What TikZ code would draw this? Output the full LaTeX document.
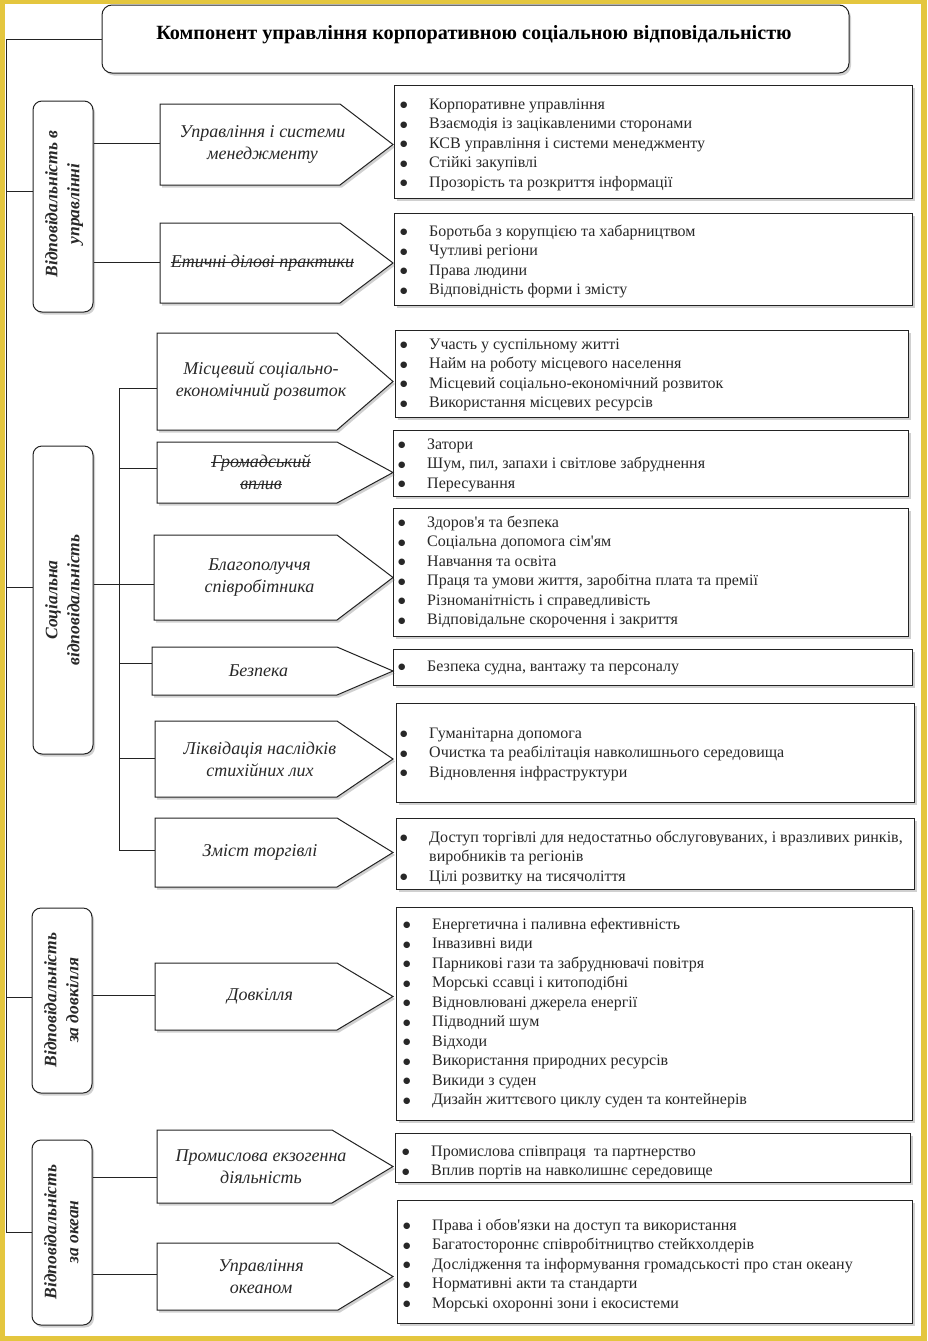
\documentclass[tikz,border=0pt]{standalone}
\usepackage{fontspec}
\setmainfont{Liberation Serif}[Ligatures=TeXOff]
\newfontfamily\dejavu{DejaVu Sans}
\usetikzlibrary{shadows,calc}

\definecolor{frameY}{RGB}{228,198,62}
\definecolor{ink}{RGB}{35,35,35}
\definecolor{txt}{RGB}{40,40,40}

\newsavebox{\strkbox}
\newcommand{\strk}[1]{\leavevmode\sbox{\strkbox}{#1}\rlap{\rule[0.27em]{\wd\strkbox}{0.7pt}}\usebox{\strkbox}}
\newcommand{\bul}{\raisebox{1.2pt}{\dejavu\fontsize{8.5}{10}\selectfont ●}}

\tikzset{
  shad/.style={drop shadow={shadow xshift=2pt, shadow yshift=-2.5pt, opacity=0.3, fill=black!60}},
  tbox/.style={draw=ink, line width=1pt, fill=white, rounded corners=10pt, shad, inner sep=0pt},
  gbox/.style={draw=ink, line width=1pt, fill=white, rounded corners=9pt, shad, inner sep=0pt},
  rboxst/.style={draw=ink, line width=1pt, fill=white, shad, inner sep=0pt},
  ashape/.style={draw=ink, line width=1pt, fill=white, shad},
  atext/.style={font=\itshape\fontsize{18}{22}\selectfont, align=center, text=txt, inner sep=0pt},
  gtext/.style={font=\bfseries\itshape\fontsize{17.5}{22}\selectfont, text=txt, inner sep=0pt, rotate=90},
  itemst/.style={font=\fontsize{16}{19.5}\selectfont, text=txt, inner sep=0pt},
  conn/.style={draw=ink, line width=0.9pt},
}

% right box: name, x1, y1, x2, y2
\newcommand{\rbx}[5]{\node[rboxst, anchor=north west, minimum width={(#4-#2)*1pt}, minimum height={(#5-#3)*1pt}] (#1) at (#2,#3) {};}
% items: name, x, baseline, rows
\newcommand{\itm}[4]{\node[itemst, anchor=base west] (#1) at (#2,#3) {\begin{tabular}[t]{@{}p{29pt}@{}l@{}}#4\end{tabular}};}
% arrow: name, left, top, bottom, diag start, connector y, text
\newcommand{\sarrow}[7]{%
  \path[ashape] (#2,#3) -- (#5,#3) -- (393,{(#3+#4)/2}) -- (#5,#4) -- (#2,#4) -- cycle;
  \coordinate (#1) at (#2,#6);
  \node[atext] (#1-t) at ({(#2+393)/2-14},{(#3+#4)/2}) {#7};}

\begin{document}
\begin{tikzpicture}[x=1pt,y=-1pt]
\useasboundingbox (0,0) rectangle (927,1341);
\fill[frameY] (0,0) rectangle (927,1341);
\fill[white] (5,4) rectangle (921,1336);

% title
\node[tbox, minimum width=747pt, minimum height=68pt] (title) at (475.5,39) {};
\node[font=\bfseries\fontsize{20.2}{24}\selectfont, text=black, inner sep=0pt] (tt) at (474,35) {Компонент управління корпоративною соціальною відповідальністю};

% groups
\node[gbox, minimum width=60pt, minimum height=211pt] (g1) at (63,206.5) {};
\node[gtext] (g1t) at (64,204) {\begin{tabular}{@{}c@{}}Відповідальність в\\управлінні\end{tabular}};
\node[gbox, minimum width=60pt, minimum height=308pt] (g2) at (63,600) {};
\node[gtext] (g2t) at (64,600) {\begin{tabular}{@{}c@{}}Соціальна\\відповідальність\end{tabular}};
\node[gbox, minimum width=60pt, minimum height=185pt] (g3) at (62,1000.5) {};
\node[gtext] (g3t) at (63,1000) {\begin{tabular}{@{}c@{}}Відповідальність\\за довкілля\end{tabular}};
\node[gbox, minimum width=60pt, minimum height=185pt] (g4) at (62,1232.5) {};
\node[gtext] (g4t) at (63,1232) {\begin{tabular}{@{}c@{}}Відповідальність\\за океан\end{tabular}};

% right boxes
\rbx{b1}{394}{85}{912}{198}
\rbx{b2}{394}{213}{912}{305}
\rbx{b3}{395}{330}{908}{417}
\rbx{b4}{393}{430}{908}{496}
\rbx{b5}{393}{508}{908}{636}
\rbx{b6}{393}{649}{912}{685}
\rbx{b7}{396}{703}{914}{802}
\rbx{b8}{396}{818}{914}{889}
\rbx{b9}{396}{907}{912}{1120}
\rbx{b10}{395}{1133}{910}{1182}
\rbx{b11}{397}{1200}{912}{1323}

% arrows
\sarrow{a1}{160}{104}{185}{340}{143}{Управління і системи\\менеджменту}
\sarrow{a2}{160}{223}{303}{340}{262}{\strk{Етичні ділові практики}}
\sarrow{a3}{157}{333}{430}{337}{388}{Місцевий соціально-\\економічний розвиток}
\sarrow{a4}{157}{442}{503}{337}{468}{\strk{Громадський}\\\strk{вплив}}
\sarrow{a5}{154}{535}{620}{337}{584}{Благополуччя\\співробітника}
\sarrow{a6}{152}{647}{695}{337}{663}{Безпека}
\sarrow{a7}{155}{721}{797}{337}{758}{Ліквідація наслідків\\стихійних лих}
\sarrow{a8}{155}{818}{887}{337}{850}{Зміст торгівлі}
\sarrow{a9}{155}{963}{1030}{337}{995}{Довкілля}
\sarrow{a10}{157}{1130}{1203}{332}{1177}{Промислова екзогенна\\діяльність}
\sarrow{a11}{157}{1243}{1310}{338}{1274}{Управління\\океаном}

% items
\itm{t1}{400}{109}{\bul & Корпоративне управління\\ \bul & Взаємодія із зацікавленими сторонами\\ \bul & КСВ управління і системи менеджменту\\ \bul & Стійкі закупівлі\\ \bul & Прозорість та розкриття інформації}
\itm{t2}{400}{236}{\bul & Боротьба з корупцією та хабарництвом\\ \bul & Чутливі регіони\\ \bul & Права людини\\ \bul & Відповідність форми і змісту}
\itm{t3}{400}{349}{\bul & Участь у суспільному житті\\ \bul & Найм на роботу місцевого населення\\ \bul & Місцевий соціально-економічний розвиток\\ \bul & Використання місцевих ресурсів}
\itm{t4}{398}{449}{\bul & Затори\\ \bul & Шум, пил, запахи і світлове забруднення\\ \bul & Пересування}
\itm{t5}{398}{527}{\bul & Здоров'я та безпека\\ \bul & Соціальна допомога сім'ям\\ \bul & Навчання та освіта\\ \bul & Праця та умови життя, заробітна плата та премії\\ \bul & Різноманітність і справедливість\\ \bul & Відповідальне скорочення і закриття}
\itm{t6}{398}{671}{\bul & Безпека судна, вантажу та персоналу}
\itm{t7}{400}{738}{\bul & Гуманітарна допомога\\ \bul & Очистка та реабілітація навколишнього середовища\\ \bul & Відновлення інфраструктури}
\itm{t8}{400}{842}{\bul & Доступ торгівлі для недостатньо обслуговуваних, і вразливих ринків,\\ & виробників та регіонів\\ \bul & Цілі розвитку на тисячоліття}
\itm{t9}{403}{929}{\bul & Енергетична і паливна ефективність\\ \bul & Інвазивні види\\ \bul & Парникові гази та забруднювачі повітря\\ \bul & Морські ссавці і китоподібні\\ \bul & Відновлювані джерела енергії\\ \bul & Підводний шум\\ \bul & Відходи\\ \bul & Використання природних ресурсів\\ \bul & Викиди з суден\\ \bul & Дизайн життєвого циклу суден та контейнерів}
\itm{t10}{402}{1156}{\bul & Промислова співпраця\ \ та партнерство\\ \bul & Вплив портів на навколишнє середовище}
\itm{t11}{403}{1230}{\bul & Права і обов'язки на доступ та використання\\ \bul & Багатостороннє співробітництво стейкхолдерів\\ \bul & Дослідження та інформування громадськості про стан океану\\ \bul & Нормативні акти та стандарти\\ \bul & Морські охоронні зони і екосистеми}

% trunk
\coordinate (trunkTop) at (6,39);
\coordinate (trunkBot) at (6,1232.5);
\coordinate (j1) at (6,191);
\coordinate (j2) at (6,587);
\coordinate (j3) at (6,997);
\draw[conn] (title.west) -- (trunkTop) -- (trunkBot) -- (g4.west);
\draw[conn] (j1) -- (g1.west |- j1);
\draw[conn] (j2) -- (g2.west |- j2);
\draw[conn] (j3) -- (g3.west |- j3);

% governance
\draw[conn] (g1.east |- a1) -- (a1);
\draw[conn] (g1.east |- a2) -- (a2);

% social bus
\coordinate (bus) at (119,0);
\draw[conn] (bus |- a3) -- (bus |- a8);
\draw[conn] (g2.east |- a5) -- (a5);
\draw[conn] (bus |- a3) -- (a3);
\draw[conn] (bus |- a4) -- (a4);
\draw[conn] (bus |- a6) -- (a6);
\draw[conn] (bus |- a7) -- (a7);
\draw[conn] (bus |- a8) -- (a8);

% environment and ocean
\draw[conn] (g3.east |- a9) -- (a9);
\draw[conn] (g4.east |- a10) -- (a10);
\draw[conn] (g4.east |- a11) -- (a11);
\end{tikzpicture}
\end{document}
